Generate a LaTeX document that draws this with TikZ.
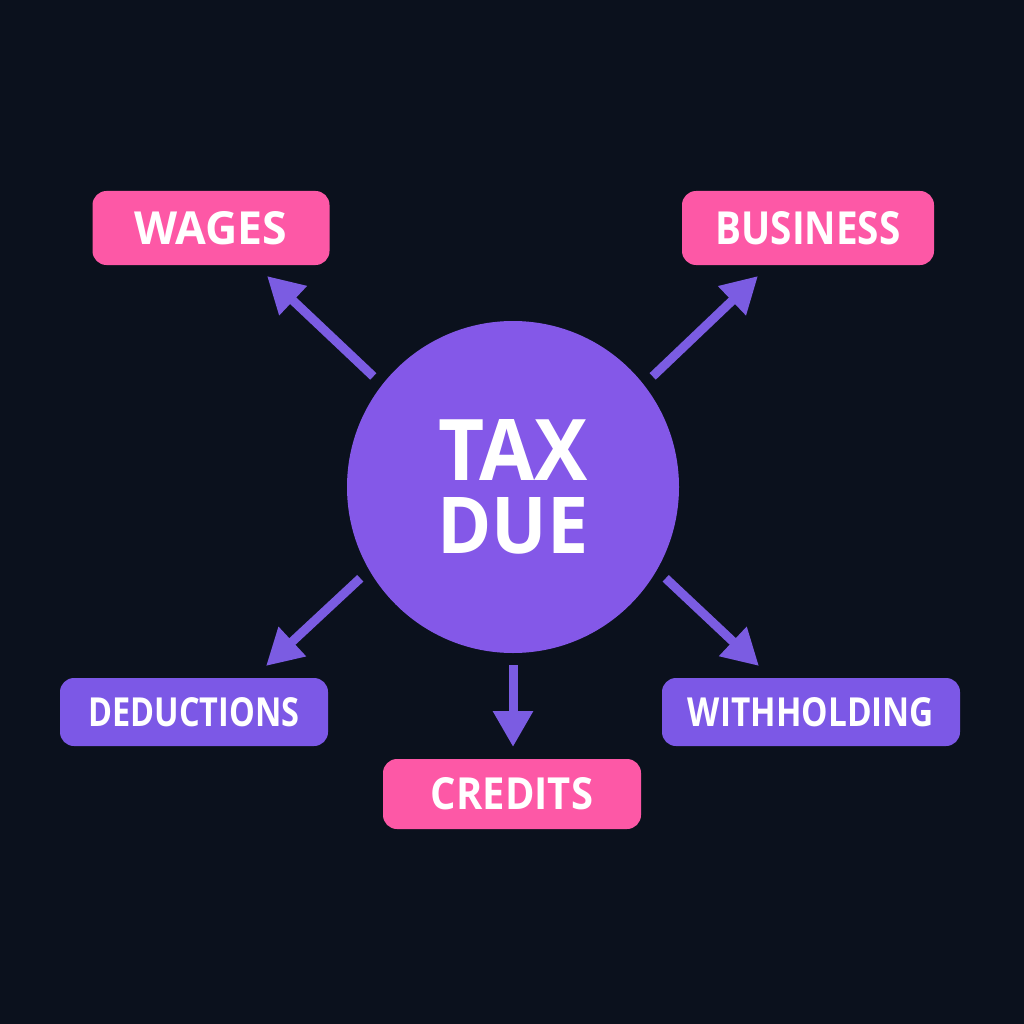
\documentclass[tikz,border=0pt]{standalone}
\usepackage{fontspec}
\setmainfont{Open Sans}
\usetikzlibrary{arrows.meta}
\definecolor{bg}{HTML}{0B111D}
\definecolor{pinkbox}{HTML}{FD58A6}
\definecolor{purplebox}{HTML}{7C58E6}
\definecolor{circlefill}{HTML}{8458E8}
\definecolor{arrowcol}{HTML}{7B5CE2}
\newcommand{\lbl}[3]{\resizebox{#1}{#2}{\bfseries #3}}
\tikzset{
  box/.style={rounded corners=14pt, inner sep=0pt, text=white},
  pinkstyle/.style={box, fill=pinkbox, minimum height=74pt},
  purplestyle/.style={box, fill=purplebox, minimum height=68pt},
  arr/.style={draw=arrowcol, line width=9pt, -{Triangle[length=36pt,width=38pt]}, shorten <=12pt}
}
\begin{document}
\begin{tikzpicture}[x=1pt,y=-1pt]
\fill[bg] (0,0) rectangle (1024,1024);
\useasboundingbox (0,0) rectangle (1024,1024);
\node[circle, fill=circlefill, minimum size=332pt, inner sep=0pt, text=white, align=center,
      font=\fontsize{10}{73}\selectfont] (c) at (513,487) {\lbl{149pt}{61pt}{TAX}\\\lbl{151pt}{56pt}{DUE}};
\node[pinkstyle, minimum width=237pt] (wages) at (211,228) {\lbl{153pt}{33pt}{WAGES}};
\node[pinkstyle, minimum width=252pt] (business) at (808,228) {\lbl{185pt}{33pt}{BUSINESS}};
\node[purplestyle, minimum width=268pt] (ded) at (194,712) {\lbl{211pt}{29pt}{DEDUCTIONS}};
\node[pinkstyle, minimum width=258pt, minimum height=70pt] (credits) at (512,794) {\lbl{162pt}{32pt}{CREDITS}};
\node[purplestyle, minimum width=298pt] (with) at (811,712) {\lbl{246pt}{29pt}{WITHHOLDING}};
\coordinate (tw) at (267,276);
\coordinate (tb) at (758,276);
\coordinate (td) at (266,666);
\coordinate (tc) at (513,747);
\coordinate (tt) at (759,666);
\draw[arr] (c.142) -- (tw);
\draw[arr] (c.38) -- (tb);
\draw[arr] (c.210) -- (td);
\draw[arr] (c.270) -- (tc);
\draw[arr] (c.330) -- (tt);
\end{tikzpicture}
\end{document}
